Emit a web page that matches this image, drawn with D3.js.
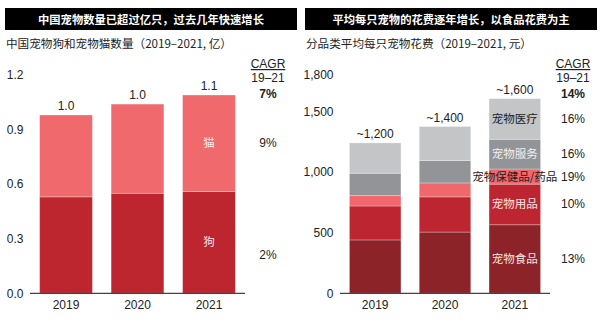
<!DOCTYPE html>
<html lang="zh">
<head>
<meta charset="UTF-8">
<title>宠物数量与花费</title>
<style>
    body { margin: 0; background: #fff; }
    svg text { font-family: "Liberation Sans", Arial, "Noto Sans CJK SC", sans-serif; fill: #222; }
    .cjk { font-family: "Noto Sans CJK SC", "Liberation Sans", sans-serif; }
</style>
</head>
<body>
<svg id="chart" width="600" height="324"></svg>
<script src="https://d3js.org/d3.v7.min.js"></script>
<script>
// 左图：宠物狗/猫数量（亿）
const years = ["2019", "2020", "2021"];
const petKeys = ["狗", "猫"];
const dogCount = [0.53, 0.55, 0.56];
const catCount = [0.45, 0.49, 0.53];
const petTotals = ["1.0", "1.0", "1.1"];
const petCagr = ["2%", "9%"];
const petCagrTotal = "7%";
const petTicks = [0, 0.3, 0.6, 0.9, 1.2];

// 右图：每只宠物分品类花费（元）
const spendKeys = ["宠物食品", "宠物用品", "宠物保健品/药品", "宠物服务", "宠物医疗"];
const food = [440, 505, 565];
const supplies = [280, 290, 335];
const health = [85, 115, 125];
const service = [185, 185, 245];
const medical = [250, 280, 335];
const spendTotals = ["~1,200", "~1,400", "~1,600"];
const spendCagr = ["13%", "10%", "19%", "16%", "16%"];
const spendCagrTotal = "14%";
const spendTicks = [0, 500, 1000, 1500, 1800];

const svg = d3.select("#chart");

function drawPanel(opt) {
    const g = svg.append("g");

    // 标题黑条
    g.append("rect")
        .attr("x", opt.left).attr("y", 8)
        .attr("width", 292).attr("height", 22)
        .attr("fill", "#000");
    g.append("text").attr("class", "cjk")
        .attr("x", opt.left + 146).attr("y", 23.5)
        .attr("text-anchor", "middle")
        .style("fill", "#fff").style("font-weight", "bold").style("font-size", "11.3px")
        .text(opt.title);
    g.append("text").attr("class", "cjk")
        .attr("x", opt.left + 1).attr("y", 47.5)
        .style("font-size", "11.6px")
        .text(opt.subtitle);

    const rows = opt.years.map((yr, i) => {
        const r = { year: yr };
        opt.keys.forEach((k, j) => r[k] = opt.series[j][i]);
        return r;
    });
    const layers = d3.stack().keys(opt.keys)(rows);

    const x = d3.scaleBand().domain(opt.years)
        .range([opt.axisX0, opt.axisX1])
        .paddingInner(0.262).paddingOuter(0.135);
    const y = d3.scaleLinear().domain([0, opt.yMax]).range([293.3, 75]);

    // y 轴刻度
    const yAxis = g.append("g")
        .attr("transform", "translate(" + opt.tickX + ",0)")
        .call(d3.axisLeft(y).tickValues(opt.ticks).tickSize(0).tickPadding(0).tickFormat(opt.fmt));
    yAxis.select(".domain").remove();
    yAxis.selectAll("text").style("font-size", "12px").style("fill", "#222")
        .attr("font-family", null);

    g.selectAll(".layer")
        .data(layers)
        .enter().append("g")
        .attr("fill", d => opt.colors[d.key])
        .selectAll("rect")
        .data(d => d)
        .enter().append("rect")
        .attr("x", d => x(d.data.year))
        .attr("width", x.bandwidth())
        .attr("y", d => y(d[1]))
        .attr("height", d => y(d[0]) - y(d[1]))
        .attr("stroke", "rgba(255,255,255,0.35)")
        .attr("stroke-width", 0.8);

    // x 轴
    const xAxis = g.append("g")
        .attr("transform", "translate(0,293.3)")
        .call(d3.axisBottom(x).tickSize(0).tickPadding(7));
    xAxis.select(".domain").remove();
    xAxis.selectAll("text").style("font-size", "12px").style("fill", "#222")
        .attr("font-family", null);
    g.append("line")
        .attr("x1", opt.axisX0).attr("x2", opt.axisX1)
        .attr("y1", 293.3).attr("y2", 293.3)
        .attr("stroke", "#444").attr("stroke-width", 1.3);

    // 合计标签
    const top = layers[layers.length - 1];
    g.selectAll(".total")
        .data(top)
        .enter().append("text")
        .attr("x", d => x(d.data.year) + x.bandwidth() / 2)
        .attr("y", d => y(d[1]) - 5)
        .attr("text-anchor", "middle")
        .style("font-size", "12px")
        .text((d, i) => opt.totals[i]);

    // 末年柱内分类标签
    const last = opt.years.length - 1;
    const cx = x(opt.years[last]) + x.bandwidth() / 2;
    layers.forEach((l, j) => {
        const mid = (l[last][0] + l[last][1]) / 2;
        g.append("text").attr("class", "cjk")
            .attr("x", cx).attr("y", y(mid) + 4)
            .attr("text-anchor", "middle")
            .style("font-size", "11.5px")
            .style("fill", opt.labelColor[l.key])
            .text(l.key);
        g.append("text")
            .attr("x", opt.cagrX).attr("y", y(mid) + 4 + (opt.cagrShift[j] || 0))
            .attr("text-anchor", "middle")
            .style("font-size", "12px")
            .text(opt.cagr[j]);
    });

    // CAGR 表头
    g.append("text")
        .attr("x", opt.cagrX).attr("y", 68)
        .attr("text-anchor", "middle")
        .style("font-size", "12px")
        .style("text-decoration", "underline")
        .text("CAGR");
    g.append("text")
        .attr("x", opt.cagrX).attr("y", 81.5)
        .attr("text-anchor", "middle")
        .style("font-size", "12px")
        .text("19–21");
    g.append("text")
        .attr("x", opt.cagrX).attr("y", 97.5)
        .attr("text-anchor", "middle")
        .style("font-size", "12px").style("font-weight", "bold")
        .text(opt.cagrTotal);
}

drawPanel({
    left: 5,
    title: "中国宠物数量已超过亿只，过去几年快速增长",
    subtitle: "中国宠物狗和宠物猫数量（2019–2021, 亿）",
    years: years,
    keys: petKeys,
    series: [dogCount, catCount],
    colors: { "狗": "#bd262f", "猫": "#f0696d" },
    labelColor: { "狗": "#f6e3e3", "猫": "#fbe9e9" },
    totals: petTotals,
    cagr: petCagr,
    cagrShift: [13, 0],
    cagrTotal: petCagrTotal,
    ticks: petTicks,
    fmt: d3.format(".1f"),
    yMax: 1.2,
    axisX0: 30, axisX1: 245,
    tickX: 23.5,
    cagrX: 268
});

drawPanel({
    left: 305,
    title: "平均每只宠物的花费逐年增长，以食品花费为主",
    subtitle: "分品类平均每只宠物花费（2019–2021, 元）",
    years: years,
    keys: spendKeys,
    series: [food, supplies, health, service, medical],
    colors: {
        "宠物食品": "#8c2329", "宠物用品": "#bd2630", "宠物保健品/药品": "#f0676c",
        "宠物服务": "#939498", "宠物医疗": "#c4c5c7"
    },
    labelColor: {
        "宠物食品": "#f4e4e4", "宠物用品": "#f8e6e6", "宠物保健品/药品": "#222",
        "宠物服务": "#f1f1f2", "宠物医疗": "#222"
    },
    totals: spendTotals,
    cagr: spendCagr,
    cagrShift: [],
    cagrTotal: spendCagrTotal,
    ticks: spendTicks,
    fmt: d3.format(","),
    yMax: 1800,
    axisX0: 340, axisX1: 550,
    tickX: 333.5,
    cagrX: 573
});
</script>
</body>
</html>
